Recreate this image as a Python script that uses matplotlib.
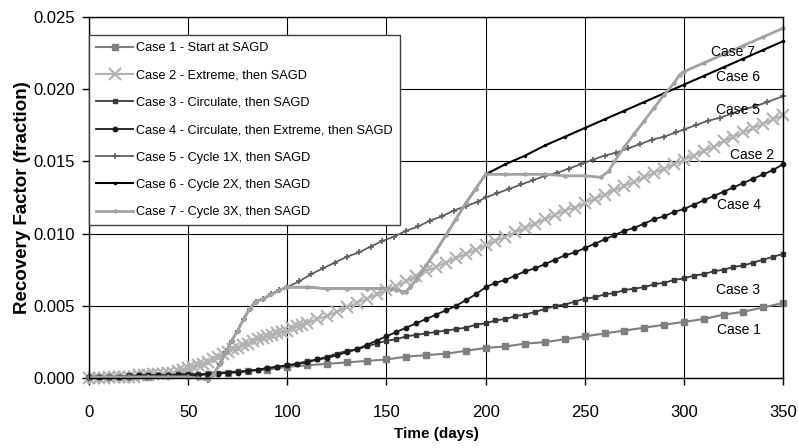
import numpy as np
import matplotlib
matplotlib.use("Agg")
import matplotlib.pyplot as plt

plt.rcParams['font.family'] = ['Liberation Sans', 'DejaVu Sans']

# sample grid used by the two steadily sampled runs (cases 3, 4)
DAYS_5 = np.arange(0, 351, 5)

CASE1_DAYS = np.arange(0, 351, 10)
CASE1 = [0.0000, 0.0001, 0.0001, 0.0001, 0.0002, 0.0002, 0.0003, 0.0004, 0.0005, 0.0006,
         0.0008, 0.0009, 0.0010, 0.0011, 0.0012, 0.0013, 0.0015, 0.0016, 0.0017, 0.0019,
         0.0021, 0.0022, 0.0024, 0.0025, 0.0027, 0.0029, 0.0031, 0.0033, 0.0035, 0.0037,
         0.0039, 0.0041, 0.0044, 0.0046, 0.0049, 0.0052]

# case 2 is reported more often during the first 110 days
CASE2_DAYS = np.r_[np.arange(0, 110.1, 2.5), np.arange(115, 351, 5)]
CASE2 = [0.0000, 0.0000, 0.0000, 0.0000, 0.0001, 0.0001, 0.0001, 0.0001, 0.0001, 0.0001,
         0.0002, 0.0002, 0.0002, 0.0003, 0.0003, 0.0003, 0.0004, 0.0004, 0.0005, 0.0006,
         0.0007, 0.0008, 0.0009, 0.0010, 0.0011, 0.0013, 0.0015, 0.0017, 0.0018, 0.0020,
         0.0021, 0.0023, 0.0024, 0.0026, 0.0027, 0.0028, 0.0029, 0.0030, 0.0031, 0.0032,
         0.0033, 0.0035, 0.0036, 0.0037, 0.0038,
         0.0041, 0.0043, 0.0046, 0.0049, 0.0052, 0.0055, 0.0058, 0.0061,
         0.0064, 0.0067, 0.0071, 0.0074, 0.0077, 0.0080, 0.0083, 0.0086, 0.0089, 0.0092,
         0.0095, 0.0098, 0.0101, 0.0104, 0.0107, 0.0110, 0.0113, 0.0116, 0.0118, 0.0121,
         0.0124, 0.0127, 0.0130, 0.0133, 0.0136, 0.0139, 0.0142, 0.0145, 0.0148, 0.0151,
         0.0154, 0.0157, 0.0160, 0.0164, 0.0167, 0.0170, 0.0173, 0.0176, 0.0179, 0.0182]

CASE3 = [0.0001, 0.0001, 0.0001, 0.0001, 0.0002, 0.0002, 0.0002, 0.0002, 0.0002, 0.0003, 0.0003,
         0.0003, 0.0003, 0.0004, 0.0004, 0.0005, 0.0005, 0.0006, 0.0007, 0.0008, 0.0009,
         0.0010, 0.0012, 0.0013, 0.0015, 0.0017, 0.0019, 0.0020, 0.0022, 0.0024, 0.0026,
         0.0027, 0.0029, 0.0030, 0.0031, 0.0032, 0.0033, 0.0034, 0.0035, 0.0037, 0.0038,
         0.0040, 0.0041, 0.0043, 0.0044, 0.0046, 0.0048, 0.0050, 0.0051, 0.0053, 0.0055,
         0.0056, 0.0058, 0.0059, 0.0061, 0.0062, 0.0063, 0.0065, 0.0066, 0.0068, 0.0069,
         0.0071, 0.0072, 0.0074, 0.0075, 0.0077, 0.0078, 0.0080, 0.0082, 0.0084, 0.0086]

CASE4 = [0.0001, 0.0001, 0.0001, 0.0001, 0.0001, 0.0002, 0.0002, 0.0002, 0.0002, 0.0002, 0.0002,
         0.0002, 0.0003, 0.0003, 0.0004, 0.0004, 0.0005, 0.0006, 0.0007, 0.0008, 0.0009,
         0.0010, 0.0011, 0.0013, 0.0014, 0.0016, 0.0018, 0.0020, 0.0023, 0.0026, 0.0029,
         0.0032, 0.0035, 0.0038, 0.0041, 0.0044, 0.0047, 0.0050, 0.0054, 0.0058, 0.0063,
         0.0066, 0.0068, 0.0071, 0.0074, 0.0076, 0.0079, 0.0082, 0.0085, 0.0087, 0.0090,
         0.0093, 0.0096, 0.0099, 0.0102, 0.0104, 0.0107, 0.0110, 0.0112, 0.0115, 0.0117,
         0.0120, 0.0123, 0.0126, 0.0129, 0.0132, 0.0135, 0.0138, 0.0141, 0.0144, 0.0148]

CASE5_DAYS = [0, 10, 20, 30, 40, 50, 55, 60, 63, 66, 69, 72, 75, 78, 81, 84, 88, 92, 96, 100,
              106, 112, 118, 124, 130, 136, 142, 148, 154, 160, 166, 172, 178, 184, 190, 196, 200,
              206, 212, 218, 224, 230, 236, 242, 248, 254, 260, 266, 272, 278, 284, 290, 296, 300,
              306, 312, 318, 324, 330, 336, 342, 350]
CASE5 = [0.0001, 0.0001, 0.0001, 0.0001, 0.0001, 0.0001, 0.0000, -0.0001,
         0.0003, 0.0010, 0.0018, 0.0026, 0.0033, 0.0041, 0.0048, 0.0053,
         0.0055, 0.0058, 0.0061, 0.0063,
         0.0067, 0.0072, 0.0076, 0.0080, 0.0084, 0.0087, 0.0091, 0.0095, 0.0098, 0.0102,
         0.0105, 0.0109, 0.0112, 0.0116, 0.0119, 0.0122, 0.0125,
         0.0128, 0.0131, 0.0134, 0.0137, 0.0140, 0.0142, 0.0145, 0.0148, 0.0151, 0.0154,
         0.0156, 0.0159, 0.0162, 0.0165, 0.0167, 0.0170, 0.0172,
         0.0175, 0.0178, 0.0180, 0.0183, 0.0186, 0.0188, 0.0191, 0.0195]

CASE6_DAYS = [0, 10, 20, 30, 40, 50, 55, 60, 63, 66, 69, 72, 75, 78, 81, 84, 88, 92, 96, 100,
              110, 120, 130, 140, 150, 155, 158, 160, 162, 165, 170, 175, 180, 185, 190, 195, 200,
              210, 220, 230, 240, 250, 260, 270, 280, 290, 300, 310, 320, 330, 340, 350]
CASE6 = [0.0001, 0.0001, 0.0001, 0.0001, 0.0001, 0.0001, 0.0000, -0.0001,
         0.0003, 0.0010, 0.0018, 0.0026, 0.0033, 0.0041, 0.0048, 0.0053,
         0.0055, 0.0058, 0.0061, 0.0063,
         0.0063, 0.0062, 0.0062, 0.0062, 0.0062, 0.0061, 0.0060, 0.0060, 0.0063, 0.0068,
         0.0078, 0.0088, 0.0099, 0.0110, 0.0121, 0.0131, 0.0141,
         0.0148, 0.0154, 0.0161, 0.0167, 0.0173, 0.0179, 0.0185, 0.0191, 0.0197, 0.0203,
         0.0209, 0.0215, 0.0221, 0.0227, 0.0233]

CASE7_DAYS = [0, 10, 20, 30, 40, 50, 55, 60, 63, 66, 69, 72, 75, 78, 81, 84, 88, 92, 96, 100,
              110, 120, 130, 140, 150, 155, 158, 160, 162, 165, 170, 175, 180, 185, 190, 195, 200,
              210, 220, 230, 240, 250, 258, 262, 265, 270, 275, 280, 285, 290, 295, 298, 300,
              310, 320, 330, 340, 350]
CASE7 = [0.0001, 0.0001, 0.0001, 0.0001, 0.0001, 0.0001, 0.0000, -0.0001,
         0.0003, 0.0010, 0.0018, 0.0026, 0.0033, 0.0041, 0.0048, 0.0053,
         0.0055, 0.0058, 0.0061, 0.0063,
         0.0063, 0.0062, 0.0062, 0.0062, 0.0062, 0.0061, 0.0060, 0.0060, 0.0063, 0.0068,
         0.0078, 0.0088, 0.0099, 0.0110, 0.0121, 0.0131, 0.0141,
         0.0141, 0.0141, 0.0141, 0.0140, 0.0140, 0.0139, 0.0143, 0.0150,
         0.0160, 0.0169, 0.0178, 0.0187, 0.0196, 0.0204, 0.0210, 0.0212,
         0.0218, 0.0224, 0.0230, 0.0236, 0.0242]

LABELS = [
    "Case 1 - Start at SAGD",
    "Case 2 - Extreme, then SAGD",
    "Case 3 - Circulate, then SAGD",
    "Case 4 - Circulate, then Extreme, then SAGD",
    "Case 5 - Cycle 1X, then SAGD",
    "Case 6 - Cycle 2X, then SAGD",
    "Case 7 - Cycle 3X, then SAGD",
]

# end-of-line tags: (text, day, recovery factor)
TAGS = [
    ("Case 7", 313.7, 0.02256),
    ("Case 6", 316.2, 0.02083),
    ("Case 5", 316.2, 0.01855),
    ("Case 2", 323.2, 0.01544),
    ("Case 4", 316.7, 0.01198),
    ("Case 3", 316.2, 0.00610),
    ("Case 1", 316.7, 0.00334),
]

fig = plt.figure(figsize=(7.98, 4.48), dpi=100)
ax = fig.add_axes([89 / 798, 1 - 378.3 / 448, (783 - 89) / 798, (378.3 - 16.7) / 448])

ax.plot(CASE1_DAYS, CASE1, color='#7f7f7f', lw=1.5, marker='s', ms=4, label=LABELS[0], clip_on=False)
ax.plot(CASE2_DAYS, CASE2, color='#b2b2b2', lw=1.5, marker='x', ms=8, mew=1.5, label=LABELS[1], clip_on=False)
ax.plot(DAYS_5, CASE3, color='#3a3a3a', lw=1.3, marker='s', ms=3.2, label=LABELS[2], clip_on=False)
ax.plot(DAYS_5, CASE4, color='#1a1a1a', lw=1.3, marker='o', ms=3.2, label=LABELS[3], clip_on=False)
ax.plot(CASE5_DAYS, CASE5, color='#5f5f5f', lw=1.3, marker='+', ms=5, mew=1.2, label=LABELS[4], clip_on=False)
ax.plot(CASE6_DAYS, CASE6, color='#000000', lw=1.5, marker='o', ms=1.5, label=LABELS[5], clip_on=False)
ax.plot(CASE7_DAYS, CASE7, color='#a3a3a3', lw=2.0, marker='o', ms=2.2, label=LABELS[6], clip_on=False)

for text, day, rf in TAGS:
    ax.text(day, rf, text, fontsize=10, ha='left', va='center', color='black')

ax.set_xlim(0, 350)
ax.set_ylim(0, 0.025)
ax.set_xticks(np.arange(0, 351, 50))
ax.set_yticks(np.arange(0, 0.0251, 0.005))
ax.yaxis.set_major_formatter(matplotlib.ticker.FormatStrFormatter('%.3f'))
ax.tick_params(direction='out', length=5, width=1, labelsize=12, colors='black')
ax.tick_params(axis='x', pad=14)
ax.tick_params(axis='y', pad=5)

ax.set_axisbelow(True)
ax.grid(True, color='black', lw=0.8)
for sp in ax.spines.values():
    sp.set_color('black')
    sp.set_linewidth(1.0)

ax.set_xlabel("Time (days)", fontsize=11, fontweight='bold', labelpad=5)
ax.set_ylabel("Recovery Factor (fraction)", fontsize=13.5, fontweight='bold', labelpad=2)

leg = ax.legend(loc='upper left', bbox_to_anchor=(0.0, 0.949), borderaxespad=0,
                fontsize=9.2, handlelength=2.9, handletextpad=0.25, labelspacing=1.2,
                borderpad=0.55, fancybox=False, framealpha=1, edgecolor='#404040')
leg.get_frame().set_linewidth(1.0)

fig.savefig("out.png", dpi=100)
